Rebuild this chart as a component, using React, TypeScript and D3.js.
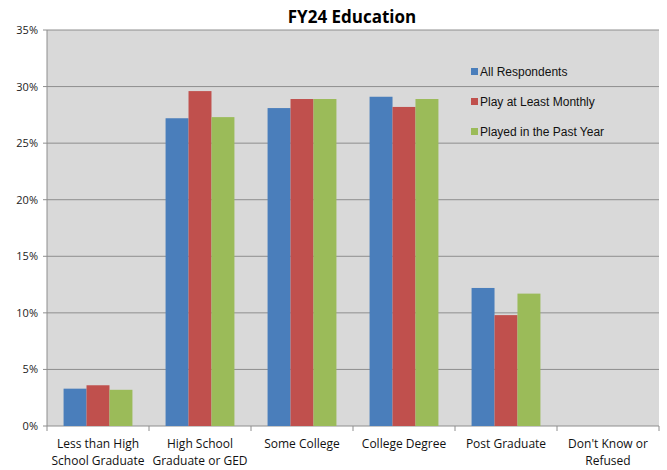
import React from 'react';
import * as d3 from 'd3';

const categories = [
  ['Less than High', 'School Graduate'],
  ['High School', 'Graduate or GED'],
  ['Some College'],
  ['College Degree'],
  ['Post Graduate'],
  ["Don't Know or", 'Refused'],
];
const seriesNames = ['All Respondents', 'Play at Least Monthly', 'Played in the Past Year'];
const allRespondents = [3.3, 27.2, 28.1, 29.1, 12.2, 0];
const playMonthly = [3.6, 29.6, 28.9, 28.2, 9.8, 0];
const playedPastYear = [3.2, 27.3, 28.9, 28.9, 11.7, 0];
const yTicks = [0, 5, 10, 15, 20, 25, 30, 35];
const colors = ['#4a7ebb', '#c0504d', '#9bbb59'];

const width = 667;
const height = 470;
const margin = { top: 30, right: 8, bottom: 44, left: 47 };

export default function App() {
  const series = [allRespondents, playMonthly, playedPastYear];
  const innerW = width - margin.left - margin.right;
  const innerH = height - margin.top - margin.bottom;

  const x = d3.scaleBand<number>()
    .domain(d3.range(categories.length))
    .range([0, innerW])
    .paddingInner(0)
    .paddingOuter(0);
  const y = d3.scaleLinear().domain([0, 35]).range([innerH, 0]);

  const groupW = x.bandwidth();
  const barW = groupW * 0.225;
  const sub = d3.scaleBand<number>()
    .domain([0, 1, 2])
    .range([(groupW - barW * 3) / 2, (groupW + barW * 3) / 2]);

  return (
    <svg width={width} height={height}
      style={{ position: 'absolute', left: 0, top: 0, background: '#fff' }}>
      <text x={352} y={23} textAnchor="middle"
        style={{ fontFamily: 'Open Sans, sans-serif', fontWeight: 700, fontSize: 17 }}>
        FY24 Education
      </text>
      <g transform={`translate(${margin.left},${margin.top})`}>
        <rect x={0} y={0} width={innerW} height={innerH} fill="#d9d9d9" />
        {yTicks.map((t) => (
          <g key={t}>
            <line x1={-4} x2={innerW} y1={y(t)} y2={y(t)} stroke="#8e8e8e" strokeWidth={1} />
            <text x={-9} y={y(t) + 4} textAnchor="end"
              style={{ fontFamily: 'Open Sans, sans-serif', fontSize: 11 }} fill="#222">
              {t}%
            </text>
          </g>
        ))}
        <line x1={0} x2={0} y1={0} y2={innerH} stroke="#8e8e8e" />
        {series.map((vals, si) =>
          vals.map((v, ci) => (
            <rect key={`${si}-${ci}`}
              x={(x(ci) as number) + (sub(si) as number)}
              y={y(v)}
              width={barW}
              height={innerH - y(v)}
              fill={colors[si]} />
          ))
        )}
        {d3.range(categories.length + 1).map((i) => (
          <line key={i} x1={i * groupW} x2={i * groupW} y1={innerH} y2={innerH + 5} stroke="#8e8e8e" />
        ))}
        {categories.map((lines, ci) => (
          <text key={ci} textAnchor="middle"
            style={{ fontFamily: 'Open Sans, sans-serif', fontSize: 12 }} fill="#111">
            {lines.map((l, li) => (
              <tspan key={li} x={(x(ci) as number) + groupW / 2} y={innerH + 22 + li * 17}>{l}</tspan>
            ))}
          </text>
        ))}
      </g>
      {seriesNames.map((name, i) => (
        <g key={name} transform={`translate(471,${72 + i * 30})`}>
          <rect x={0} y={-4} width={7} height={7} fill={colors[i]} />
          <text x={9} y={4} style={{ fontFamily: 'Liberation Sans, Arial, sans-serif', fontSize: 12 }} fill="#111">
            {name}
          </text>
        </g>
      ))}
    </svg>
  );
}
